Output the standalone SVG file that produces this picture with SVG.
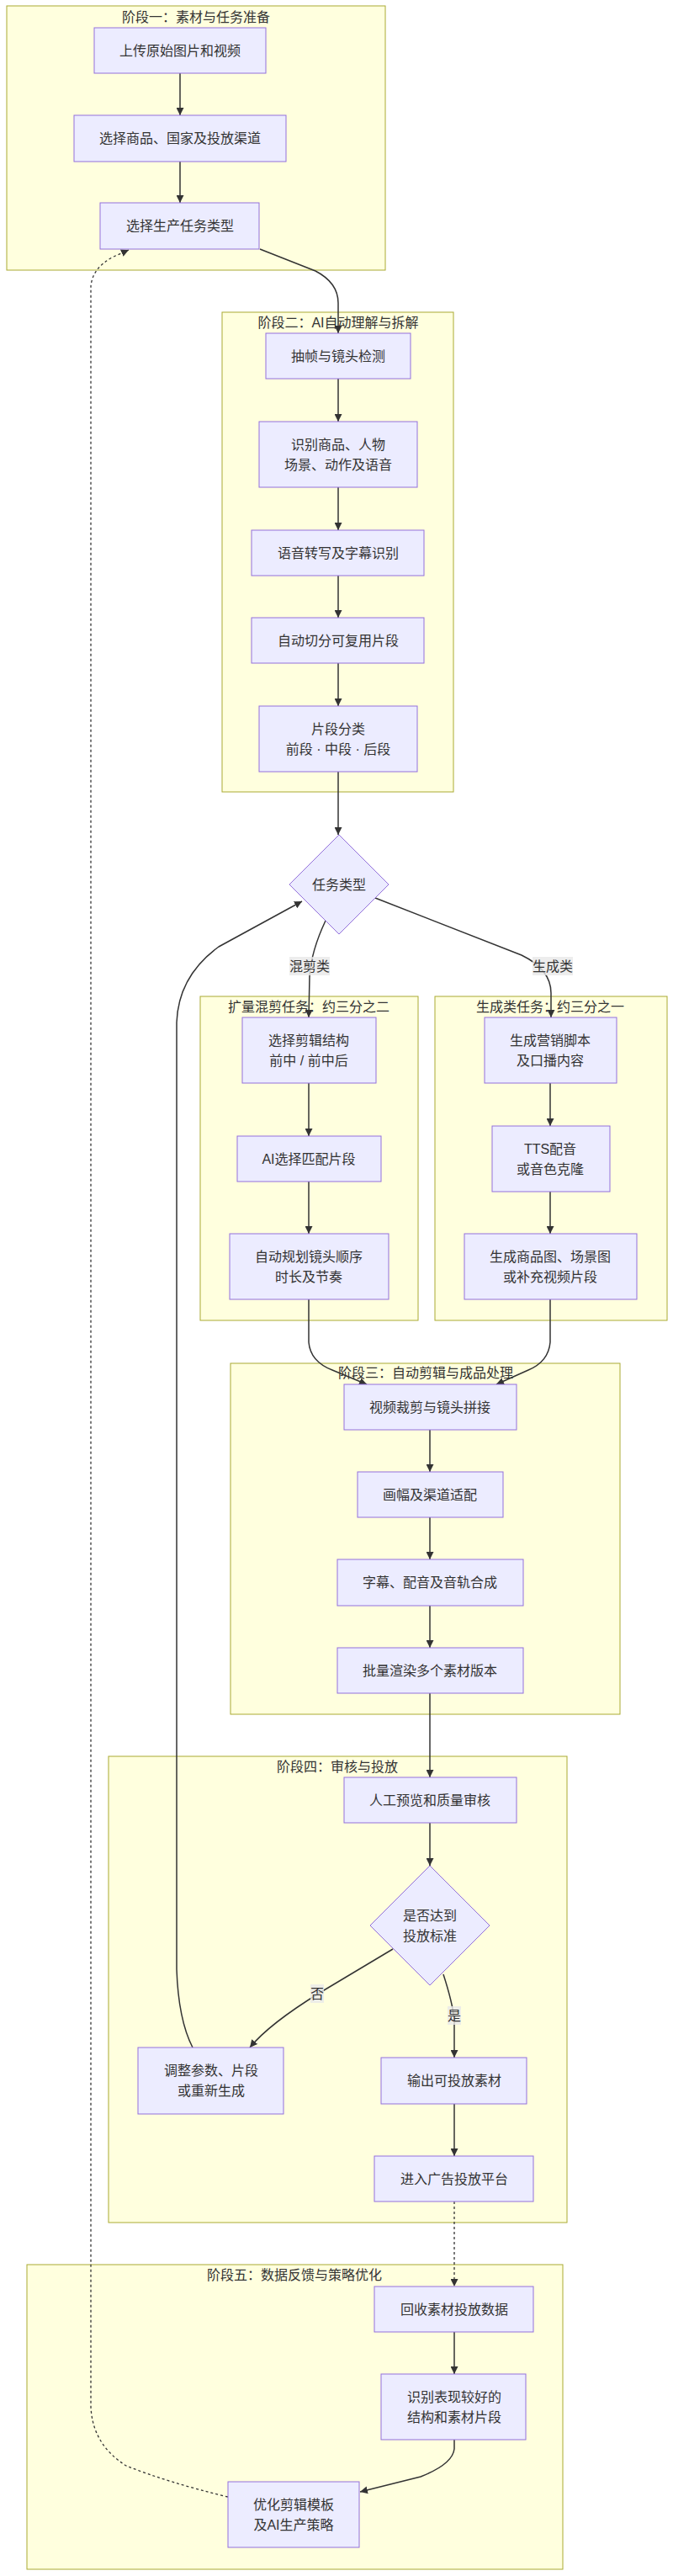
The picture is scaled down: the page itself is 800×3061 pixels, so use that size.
<svg xmlns="http://www.w3.org/2000/svg" width="800" height="3061" viewBox="0 0 800 3061">
<defs>
<marker id="arr" viewBox="0 0 10 10" refX="10" refY="5" markerWidth="9" markerHeight="9" markerUnits="userSpaceOnUse" orient="auto">
<path d="M0,0 L10,5 L0,10 z" fill="#333"/>
</marker>
<style>
.cl{fill:#ffffde;stroke:#aaaa33;stroke-width:1}
.nd{fill:#ECECFF;stroke:#9370DB;stroke-width:1}
.t{font-family:"Liberation Sans","Noto Sans CJK SC",sans-serif;font-size:16px;fill:#333;text-anchor:middle;dominant-baseline:central}
.e{fill:none;stroke:#333;stroke-width:1.5;marker-end:url(#arr)}
.d{stroke-dasharray:3 3;stroke-width:1.3}
.lb{fill:rgba(232,232,232,0.8)}
</style>
</defs>
<rect width="800" height="3061" fill="#fff"/>
<g id="clusters">
<g id="phase1"><rect class="cl" x="8" y="7" width="450" height="314"/><text class="t" x="233" y="20">阶段一：素材与任务准备</text></g>
<g id="phase2"><rect class="cl" x="264" y="371" width="275" height="570"/><text class="t" x="402" y="383">阶段二：AI自动理解与拆解</text></g>
<g id="mix"><rect class="cl" x="238" y="1184" width="259" height="385"/><text class="t" x="367" y="1196">扩量混剪任务：约三分之二</text></g>
<g id="gen"><rect class="cl" x="517" y="1184" width="276" height="385"/><text class="t" x="654" y="1196">生成类任务：约三分之一</text></g>
<g id="phase3"><rect class="cl" x="274" y="1620" width="463" height="417"/><text class="t" x="506" y="1631">阶段三：自动剪辑与成品处理</text></g>
<g id="phase4"><rect class="cl" x="129" y="2087" width="545" height="554"/><text class="t" x="401" y="2099">阶段四：审核与投放</text></g>
<g id="phase5"><rect class="cl" x="32" y="2691" width="637" height="362"/><text class="t" x="350" y="2703">阶段五：数据反馈与策略优化</text></g>
</g>
<g id="edges">
<path class="e" d="M214,87 L214,137"/>
<path class="e" d="M214,192 L214,241"/>
<path class="e" d="M309,296 L375,322 Q402,336 402,360 L402,396"/>
<path class="e" d="M402,450 L402,501"/>
<path class="e" d="M402,579 L402,630"/>
<path class="e" d="M402,684 L402,734"/>
<path class="e" d="M402,788 L402,839"/>
<path class="e" d="M402,917 L402,992"/>
<path class="e" d="M387,1094 Q370,1130 368,1160 L367,1209"/>
<path class="e" d="M446,1067 L620,1135 Q655,1152 655,1180 L655,1209"/>
<path class="e" d="M367,1287 L367,1350"/>
<path class="e" d="M367,1404 L367,1466"/>
<path class="e" d="M654,1287 L654,1338"/>
<path class="e" d="M654,1416 L654,1466"/>
<path class="e" d="M367,1544 L367,1595 Q369,1618 395,1628 L436,1645"/>
<path class="e" d="M654,1544 L654,1595 Q652,1618 628,1628 L590,1645"/>
<path class="e" d="M511,1699 L511,1749"/>
<path class="e" d="M511,1803 L511,1853"/>
<path class="e" d="M511,1908 L511,1958"/>
<path class="e" d="M511,2012 L511,2112"/>
<path class="e" d="M511,2166 L511,2217"/>
<path class="e" d="M467,2316 L380,2368 Q320,2405 297,2433"/>
<path class="e" d="M527,2346 Q538,2380 540,2400 L540,2445"/>
<path class="e" d="M540,2500 L540,2562"/>
<path class="e d" d="M540,2616 L540,2717"/>
<path class="e" d="M540,2771 L540,2821"/>
<path class="e" d="M540,2899 L540,2910 Q538,2928 500,2943 L428,2961"/>
<path class="e d" d="M271,2967 Q200,2950 150,2930 Q110,2905 108,2860 L108,340 Q110,318 135,305 L153,297"/>
<path class="e" d="M229,2433 Q212,2400 210,2340 L210,1215 Q212,1160 260,1125 L359,1071"/>
<rect class="lb" x="344" y="1137" width="48" height="22"/><text class="t" x="368" y="1148">混剪类</text>
<rect class="lb" x="633" y="1137" width="48" height="22"/><text class="t" x="657" y="1148">生成类</text>
<rect class="lb" x="369" y="2358" width="16" height="22"/><text class="t" x="377" y="2369">否</text>
<rect class="lb" x="532" y="2384" width="16" height="22"/><text class="t" x="540" y="2395">是</text>
</g>
<g id="n1"><rect class="nd" x="112" y="33" width="204" height="54"/><text class="t" x="214" y="60">上传原始图片和视频</text></g>
<g id="n2"><rect class="nd" x="88" y="137" width="252" height="55"/><text class="t" x="214" y="164">选择商品、国家及投放渠道</text></g>
<g id="n3"><rect class="nd" x="119" y="241" width="189" height="55"/><text class="t" x="214" y="268">选择生产任务类型</text></g>
<g id="n4"><rect class="nd" x="316" y="396" width="172" height="54"/><text class="t" x="402" y="423">抽帧与镜头检测</text></g>
<g id="n5"><rect class="nd" x="308" y="501" width="188" height="78"/><text class="t" x="402" y="528">识别商品、人物</text><text class="t" x="402" y="552">场景、动作及语音</text></g>
<g id="n6"><rect class="nd" x="299" y="630" width="205" height="54"/><text class="t" x="402" y="657">语音转写及字幕识别</text></g>
<g id="n7"><rect class="nd" x="299" y="734" width="205" height="54"/><text class="t" x="402" y="761">自动切分可复用片段</text></g>
<g id="n8"><rect class="nd" x="308" y="839" width="188" height="78"/><text class="t" x="402" y="866">片段分类</text><text class="t" x="402" y="890">前段 · 中段 · 后段</text></g>
<g id="n9"><polygon class="nd" points="403,992 462,1051 403,1110 344,1051"/><text class="t" x="403" y="1051">任务类型</text></g>
<g id="n10"><rect class="nd" x="288" y="1209" width="159" height="78"/><text class="t" x="367" y="1236">选择剪辑结构</text><text class="t" x="367" y="1260">前中 / 前中后</text></g>
<g id="n11"><rect class="nd" x="282" y="1350" width="171" height="54"/><text class="t" x="367" y="1377">AI选择匹配片段</text></g>
<g id="n12"><rect class="nd" x="273" y="1466" width="189" height="78"/><text class="t" x="367" y="1493">自动规划镜头顺序</text><text class="t" x="367" y="1517">时长及节奏</text></g>
<g id="n13"><rect class="nd" x="576" y="1209" width="157" height="78"/><text class="t" x="654" y="1236">生成营销脚本</text><text class="t" x="654" y="1260">及口播内容</text></g>
<g id="n14"><rect class="nd" x="585" y="1338" width="140" height="78"/><text class="t" x="654" y="1365">TTS配音</text><text class="t" x="654" y="1389">或音色克隆</text></g>
<g id="n15"><rect class="nd" x="552" y="1466" width="205" height="78"/><text class="t" x="654" y="1493">生成商品图、场景图</text><text class="t" x="654" y="1517">或补充视频片段</text></g>
<g id="n16"><rect class="nd" x="409" y="1645" width="205" height="54"/><text class="t" x="511" y="1672">视频裁剪与镜头拼接</text></g>
<g id="n17"><rect class="nd" x="425" y="1749" width="173" height="54"/><text class="t" x="511" y="1776">画幅及渠道适配</text></g>
<g id="n18"><rect class="nd" x="401" y="1853" width="221" height="55"/><text class="t" x="511" y="1880">字幕、配音及音轨合成</text></g>
<g id="n19"><rect class="nd" x="401" y="1958" width="221" height="54"/><text class="t" x="511" y="1985">批量渲染多个素材版本</text></g>
<g id="n20"><rect class="nd" x="409" y="2112" width="205" height="54"/><text class="t" x="511" y="2139">人工预览和质量审核</text></g>
<g id="n21"><polygon class="nd" points="511,2217 582,2288 511,2359 440,2288"/><text class="t" x="511" y="2276">是否达到</text><text class="t" x="511" y="2300">投放标准</text></g>
<g id="n22"><rect class="nd" x="164" y="2433" width="173" height="79"/><text class="t" x="251" y="2460">调整参数、片段</text><text class="t" x="251" y="2484">或重新生成</text></g>
<g id="n23"><rect class="nd" x="453" y="2445" width="173" height="55"/><text class="t" x="540" y="2472">输出可投放素材</text></g>
<g id="n24"><rect class="nd" x="445" y="2562" width="189" height="54"/><text class="t" x="540" y="2589">进入广告投放平台</text></g>
<g id="n25"><rect class="nd" x="445" y="2717" width="189" height="54"/><text class="t" x="540" y="2744">回收素材投放数据</text></g>
<g id="n26"><rect class="nd" x="453" y="2821" width="172" height="78"/><text class="t" x="540" y="2848">识别表现较好的</text><text class="t" x="540" y="2872">结构和素材片段</text></g>
<g id="n27"><rect class="nd" x="271" y="2949" width="156" height="78"/><text class="t" x="349" y="2976">优化剪辑模板</text><text class="t" x="349" y="3000">及AI生产策略</text></g>
</svg>
